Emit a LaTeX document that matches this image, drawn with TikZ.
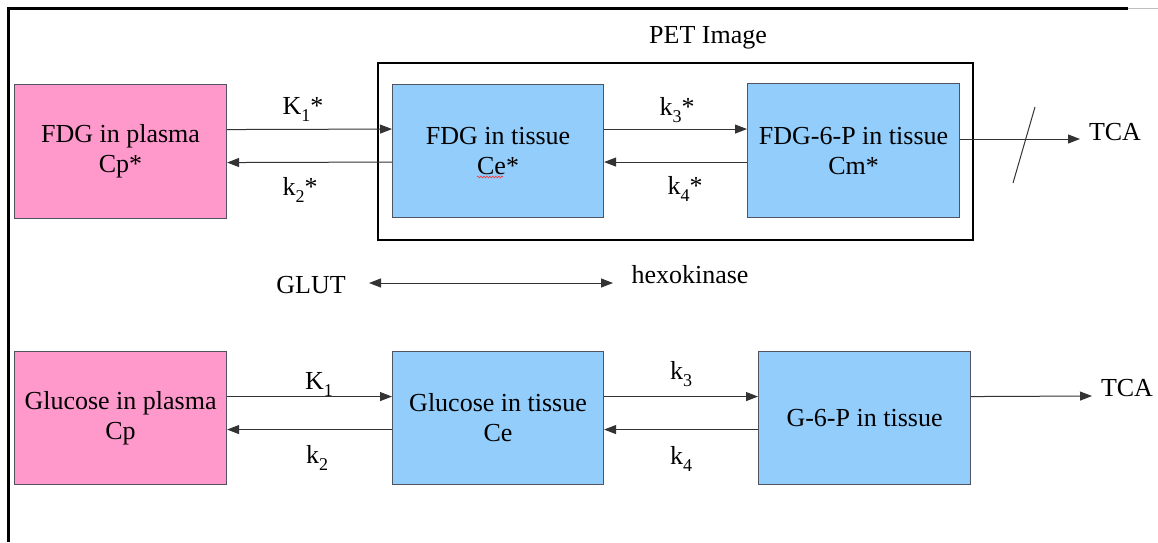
\documentclass[tikz,border=0pt]{standalone}
\usepackage{fontspec}
\setmainfont{Liberation Serif}
\usetikzlibrary{arrows.meta,decorations.pathmorphing}
\definecolor{plasma}{RGB}{255,153,204}
\definecolor{tissue}{RGB}{146,205,252}
\definecolor{boxline}{RGB}{80,84,96}
% rate-constant subscript, set low as in the figure
\newcommand\rsub[1]{\raisebox{-7pt}{\fontsize{18}{18}\selectfont #1}}
\begin{document}
\begin{tikzpicture}[x=1pt,y=-1pt,
  font=\fontsize{26}{30}\selectfont,
  comp/.style={draw=boxline,line width=1.1pt,anchor=north west,
    minimum width=212pt,minimum height=134pt,align=center,inner sep=0pt},
  plasmabox/.style={comp,fill=plasma},
  tissuebox/.style={comp,fill=tissue},
  flow/.style={line width=1pt,draw=black!80,-{Triangle[length=12pt,width=9pt]}},
  both/.style={line width=1pt,draw=black!80,{Triangle[length=12pt,width=9pt]}-{Triangle[length=12pt,width=9pt]}},
  lab/.style={anchor=base,inner sep=0pt}]
\useasboundingbox (0,0) rectangle (1158,542);

% outer frame (top and left edges)
\draw[line width=3pt] (8,542) -- (8,8) -- (1128,8);
\draw[line width=1pt,black!25] (1128,8) -- (1158,8);

% PET image region
\node[draw,line width=2pt,anchor=north west,minimum width=595pt,
  minimum height=177pt,inner sep=0pt] (pet) at (377,62) {};
\node[lab] (petlab) at (708,43) {PET Image};

% FDG compartments
\node[plasmabox] (fdgp) at (14,84) {FDG in plasma\\Cp*};
\node[tissuebox,minimum width=211pt,minimum height=133pt] (fdgt) at (392,84) {FDG in tissue\\Ce*};
\node[tissuebox] (fdgm) at (747,83) {FDG-6-P in tissue\\Cm*};

% glucose compartments
\node[plasmabox,minimum height=133pt] (glp) at (14,351) {Glucose in plasma\\Cp};
\node[tissuebox,minimum width=211pt,minimum height=133pt] (glt) at (392,351) {Glucose in tissue\\Ce};
\node[tissuebox,minimum height=133pt] (g6p) at (758,351) {G-6-P in tissue};

% spell-check squiggle under Ce*
\draw[red!80,line width=0.6pt,decorate,
  decoration={snake,segment length=3pt,amplitude=0.9pt}] (477,177) -- (503,177);

% FDG exchange arrows
\draw[flow] ([yshift=22pt]fdgp.east) -- ([yshift=22pt]fdgt.west);
\draw[flow] ([yshift=-11pt]fdgt.west) -- ([yshift=-11pt]fdgp.east);
\draw[flow] ([yshift=22pt]fdgt.east) -- ([yshift=22pt]fdgm.west |- fdgt.east);
\draw[flow] ([yshift=-11pt]fdgm.west |- fdgt.east) -- ([yshift=-11pt]fdgt.east);
\node[lab] (k1s) at (303,114) {K\rsub{1}*};
\node[lab] (k2s) at (300,195) {k\rsub{2}*};
\node[lab] (k3s) at (677,115) {k\rsub{3}*};
\node[lab] (k4s) at (685,194) {k\rsub{4}*};

% blocked path to TCA
\node[lab] (tca1) at (1115,140) {TCA};
\coordinate (tcaend1) at (1080,139);
\draw[flow] (fdgm.east |- tcaend1) -- (tcaend1);
\coordinate (cutA) at (1035,107);
\coordinate (cutB) at (1013,183);
\draw[line width=1pt,black!80] (cutA) -- (cutB);

% transporter / enzyme
\node[lab] (glut) at (311,293) {GLUT};
\node[lab] (hexo) at (690,283) {hexokinase};
\coordinate (gl) at (369,283);
\coordinate (hx) at (613,283);
\draw[both] (gl) -- (hx);

% glucose exchange arrows
\draw[flow] ([yshift=21.5pt]glp.east) -- ([yshift=21.5pt]glt.west);
\draw[flow] ([yshift=-11.5pt]glt.west) -- ([yshift=-11.5pt]glp.east);
\draw[flow] ([yshift=21.5pt]glt.east) -- ([yshift=21.5pt]g6p.west);
\draw[flow] ([yshift=-11.5pt]g6p.west) -- ([yshift=-11.5pt]glt.east);
\node[lab] (k1) at (319,389) {K\rsub{1}};
\node[lab] (k2) at (317,463) {k\rsub{2}};
\node[lab] (k3) at (681,379) {k\rsub{3}};
\node[lab] (k4) at (681,464) {k\rsub{4}};

% glucose path to TCA
\node[lab] (tca2) at (1127,396) {TCA};
\coordinate (tcaend2) at (1092,396);
\draw[flow] ([yshift=21.5pt]g6p.east) -- (tcaend2);
\end{tikzpicture}
\end{document}
